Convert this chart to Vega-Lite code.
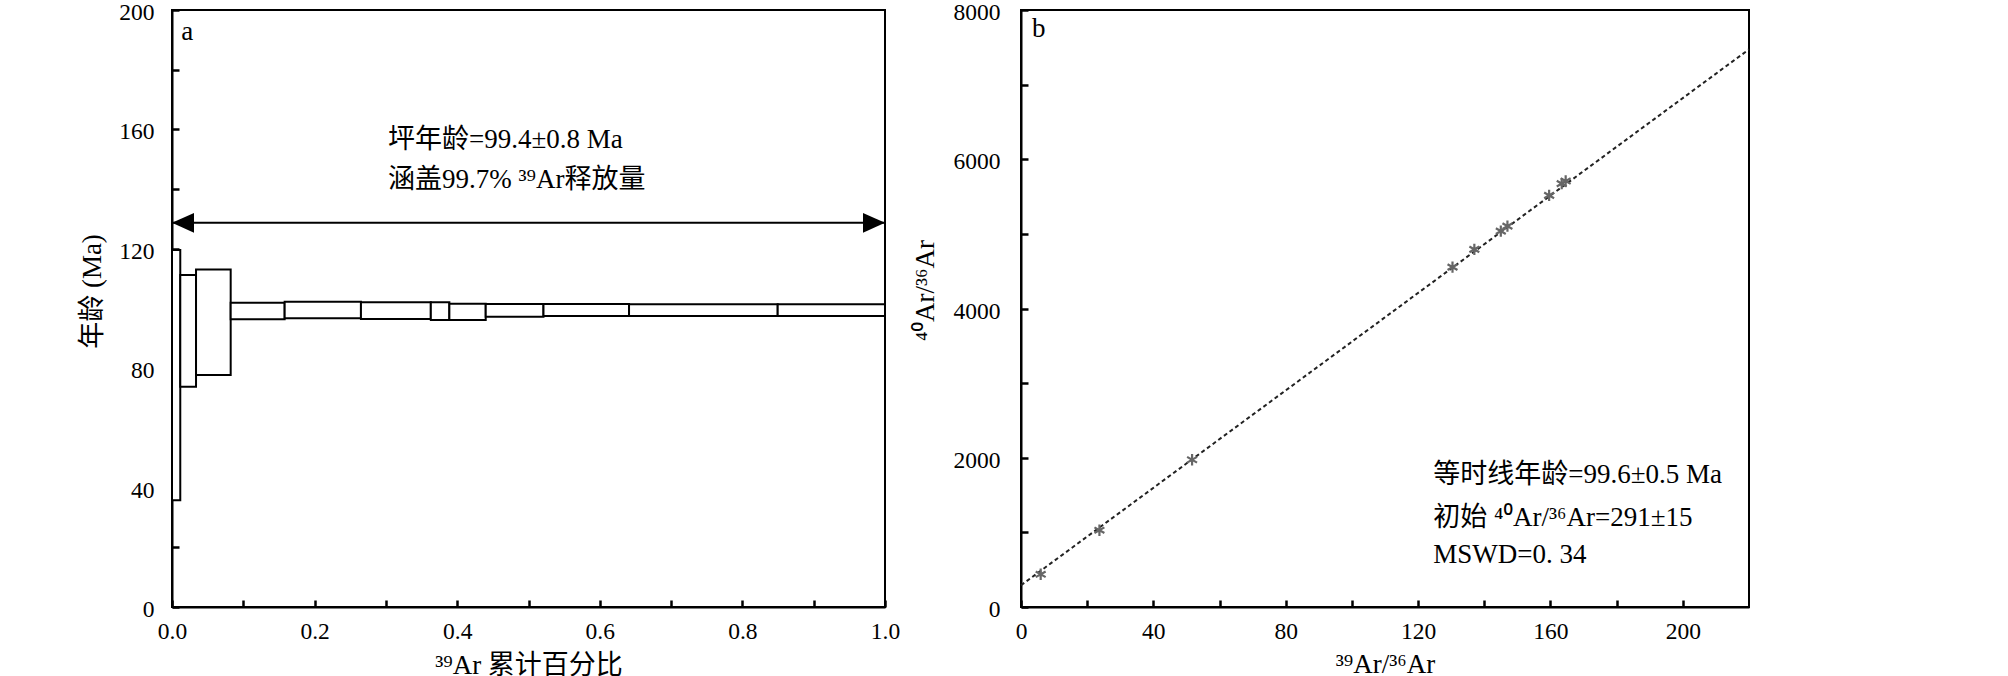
{
  "$schema": "https://vega.github.io/schema/vega-lite/v6.json",
  "autosize": {"type": "none"},
  "padding": {"left": 172, "top": 10, "right": 1836, "bottom": 666},
  "background": "white",
  "config": {
    "view": {"stroke": "black", "strokeWidth": 2},
    "font": "'Liberation Serif', 'Noto Sans', 'Noto Sans CJK SC'",
    "text": {"font": "'Liberation Serif', 'Noto Sans', 'Noto Sans CJK SC'", "fontSize": 27, "color": "black"},
    "axis": {
      "labelFont": "'Liberation Serif', 'Noto Sans', 'Noto Sans CJK SC'",
      "labelFontSize": 23.5,
      "labelColor": "black",
      "titleFont": "'Liberation Serif', 'Noto Sans', 'Noto Sans CJK SC'",
      "titleFontSize": 27,
      "titleFontWeight": "normal",
      "titleColor": "black",
      "domainColor": "black",
      "domainWidth": 2,
      "ticks": true,
      "tickColor": "black",
      "tickWidth": 2.5,
      "tickSize": -7,
      "grid": false,
      "zindex": 1,
      "labelFlush": false,
      "labelOverlap": false
    }
  },
  "bounds": "flush",
  "spacing": 136,
  "hconcat": [
    {
      "width": 713,
      "height": 597,
      "encoding": {
        "x": {"field": "x", "type": "quantitative",
              "scale": {"domain": [0, 1], "nice": false, "zero": false},
              "axis": {"title": "³⁹Ar 累计百分比",
                       "values": [0, 0.1, 0.2, 0.3, 0.4, 0.5, 0.6, 0.7, 0.8, 0.9, 1.0],
                       "labelExpr": "round(datum.value * 10) % 2 === 0 ? format(datum.value, '.1f') : ''",
                       "labelBaseline": "alphabetic",
                       "labelPadding": 38,
                       "titleBaseline": "alphabetic",
                       "titleY": 66}},
        "y": {"field": "y", "type": "quantitative",
              "scale": {"domain": [0, 200], "nice": false, "zero": false},
              "axis": {"title": "年龄 (Ma)",
                       "values": [0, 20, 40, 60, 80, 100, 120, 140, 160, 180, 200],
                       "labelExpr": "datum.value % 40 === 0 ? datum.label : ''",
                       "labelPadding": 25,
                       "labelOffset": 2.5,
                       "titleX": -66,
                       "titleY": 281}}
      },
      "layer": [
        {
          "data": {"values": [
            {"x": 0, "x2": 0.0116, "y": 35.8, "y2": 119.6},
            {"x": 0.0116, "x2": 0.0337, "y": 73.8, "y2": 111.2},
            {"x": 0.0337, "x2": 0.0823, "y": 77.7, "y2": 113.1},
            {"x": 0.0823, "x2": 0.158, "y": 96.4, "y2": 101.95},
            {"x": 0.158, "x2": 0.265, "y": 96.7, "y2": 102.3},
            {"x": 0.265, "x2": 0.363, "y": 96.5, "y2": 102.1},
            {"x": 0.363, "x2": 0.389, "y": 96.15, "y2": 102.1},
            {"x": 0.389, "x2": 0.44, "y": 96.15, "y2": 101.6},
            {"x": 0.44, "x2": 0.521, "y": 97.25, "y2": 101.5},
            {"x": 0.521, "x2": 0.641, "y": 97.5, "y2": 101.5},
            {"x": 0.641, "x2": 0.8495, "y": 97.5, "y2": 101.4},
            {"x": 0.8495, "x2": 1.0, "y": 97.5, "y2": 101.4}
          ]},
          "mark": {"type": "rect", "fill": "white", "stroke": "black", "strokeWidth": 2},
          "encoding": {
            "x2": {"field": "x2"},
            "y2": {"field": "y2"}
          }
        },
        {
          "data": {"values": [{"x": 0, "x2": 1, "y": 128.7}]},
          "mark": {"type": "rule", "color": "black", "strokeWidth": 2},
          "encoding": {
            "x2": {"field": "x2"}
          }
        },
        {
          "data": {"values": [{"x": 0, "y": 128.7, "dir": "L"}, {"x": 1, "y": 128.7, "dir": "R"}]},
          "mark": {"type": "point", "filled": true, "color": "black", "opacity": 1, "size": 1936, "strokeWidth": 0},
          "encoding": {
            "shape": {"field": "dir", "type": "nominal",
                      "scale": {"domain": ["L", "R"], "range": ["M0,0L1,-0.45L1,0.45Z", "M0,0L-1,-0.45L-1,0.45Z"]},
                      "legend": null}
          }
        },
        {
          "data": {"values": [
            {"x": 0.303, "y": 156.4, "label": "坪年龄=99.4±0.8 Ma"},
            {"x": 0.303, "y": 143.0, "label": "涵盖99.7%  ³⁹Ar释放量"},
            {"x": 0.013, "y": 192.6, "label": "a"}
          ]},
          "mark": {"type": "text", "align": "left", "baseline": "middle"},
          "encoding": {
            "text": {"field": "label"}
          }
        }
      ]
    },
    {
      "width": 728,
      "height": 597,
      "encoding": {
        "x": {"field": "x", "type": "quantitative",
              "scale": {"domain": [0, 220], "nice": false, "zero": false},
              "axis": {"title": "³⁹Ar/³⁶Ar",
                       "values": [0, 20, 40, 60, 80, 100, 120, 140, 160, 180, 200],
                       "labelExpr": "datum.value % 40 === 0 ? datum.label : ''",
                       "labelBaseline": "alphabetic",
                       "labelPadding": 38,
                       "titleBaseline": "alphabetic",
                       "titleY": 65}},
        "y": {"field": "y", "type": "quantitative",
              "scale": {"domain": [0, 8000], "nice": false, "zero": false},
              "axis": {"title": "⁴⁰Ar/³⁶Ar",
                       "values": [0, 1000, 2000, 3000, 4000, 5000, 6000, 7000, 8000],
                       "labelExpr": "datum.value % 2000 === 0 ? format(datum.value, 'd') : ''",
                       "labelPadding": 28,
                       "labelOffset": 2.5,
                       "titleX": -82,
                       "titleY": 280}}
      },
      "layer": [
        {
          "data": {"values": [{"x": 0, "y": 291}, {"x": 220, "y": 7473}]},
          "mark": {"type": "line", "color": "#222222", "strokeWidth": 2, "strokeDash": [4, 3]},
          "encoding": {}
        },
        {
          "data": {"values": [
            {"x": 5.95, "y": 438},
            {"x": 23.7, "y": 1029},
            {"x": 51.7, "y": 1973},
            {"x": 130.4, "y": 4554},
            {"x": 137.0, "y": 4792},
            {"x": 145.0, "y": 5037},
            {"x": 147.0, "y": 5104},
            {"x": 159.6, "y": 5516},
            {"x": 163.4, "y": 5674},
            {"x": 164.6, "y": 5708}
          ]},
          "mark": {"type": "point", "filled": false, "color": "#666666", "opacity": 1, "strokeWidth": 2.2, "size": 130,
                   "shape": "M0,-1L0,1M-0.87,-0.5L0.87,0.5M-0.87,0.5L0.87,-0.5"},
          "encoding": {}
        },
        {
          "data": {"values": [
            {"x": 124.6, "y": 1769, "label": "等时线年龄=99.6±0.5 Ma"},
            {"x": 124.6, "y": 1189, "label": "初始 ⁴⁰Ar/³⁶Ar=291±15"},
            {"x": 124.6, "y": 697, "label": "MSWD=0. 34"},
            {"x": 3.3, "y": 7745, "label": "b"}
          ]},
          "mark": {"type": "text", "align": "left", "baseline": "middle"},
          "encoding": {
            "text": {"field": "label"}
          }
        }
      ]
    }
  ]
}
